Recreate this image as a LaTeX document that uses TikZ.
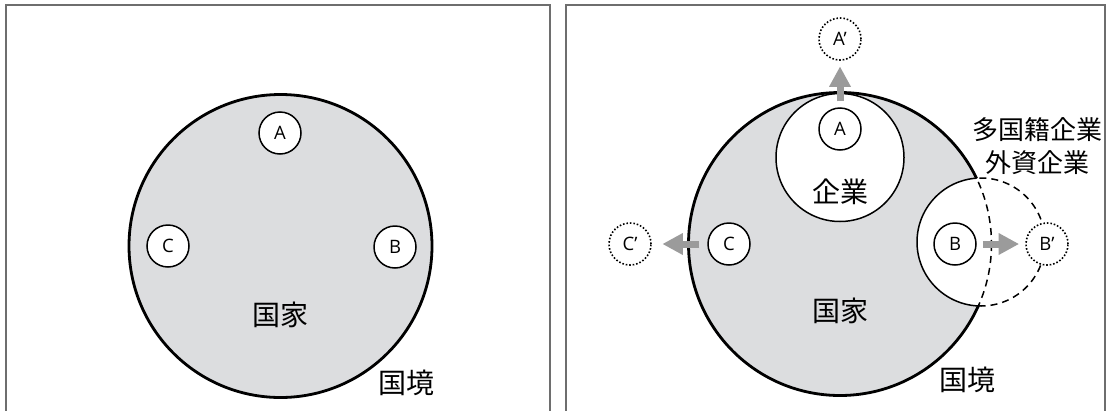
\documentclass[tikz,border=0pt]{standalone}
\usepackage{fontspec}
\setmainfont{Open Sans}
\newfontfamily\jp{Noto Sans CJK JP}
\usetikzlibrary{arrows.meta}
\definecolor{landgray}{RGB}{220,221,223}
\definecolor{arrowgray}{RGB}{155,155,155}
\definecolor{framegray}{RGB}{110,110,110}
\begin{document}
\begin{tikzpicture}[x=1pt,y=-1pt,
  firm/.style={circle,draw,line width=1.5pt,fill=white,minimum size=42pt,inner sep=0pt,font=\fontsize{18.5}{18.5}\selectfont},
  ghost/.style={firm,line width=1.6pt,dash pattern=on 1.6pt off 1.9pt},
  move/.style={draw=arrowgray,line width=7pt,-{Triangle[length=20pt,width=22pt,line width=0pt]}},
  jlabel/.style={font=\jp\fontsize{28}{28}\selectfont,inner sep=0pt},
  jsmall/.style={font=\jp\fontsize{26}{26}\selectfont,inner sep=0pt},
  panel/.style={draw=framegray,line width=1.2pt},
  border/.style={line width=2.8pt},
  thinline/.style={line width=1.5pt},
  dashline/.style={line width=1.5pt,dash pattern=on 7pt off 5pt}]
\useasboundingbox (0,0) rectangle (1111,410);
\fill[white] (0,0) rectangle (1111,410);
% ---------- left panel ----------
\draw[panel] (6,412) -- (6,5) -- (550,5) -- (550,412);
\fill[landgray] (280.5,246) circle (151.5);
\draw[border] (280.5,246) circle (151.5);
\node[firm] (LA) at (280,133) {A};
\node[firm] (LC) at (168,246) {C};
\node[firm] (LB) at (395,247) {B};
\node[jlabel] (Lcountry) at (280,315) {国家};
\node[jlabel] (Lborder) at (406,383) {国境};
% ---------- right panel ----------
\draw[panel] (566,412) -- (566,5) -- (1105,5) -- (1105,412);
\fill[landgray] (840,244) circle (151.5);
\fill[white] (981,242) circle (64);
\draw[thinline,fill=white] (840,157.5) circle (64);
\begin{scope}[even odd rule]
  \clip (560,0) rectangle (1111,410) (981,242) circle (64);
  \draw[border] (840,244) circle (151.5);
\end{scope}
\begin{scope}
  \clip (840,244) circle (151.5);
  \draw[thinline] (981,242) circle (64);
\end{scope}
\begin{scope}[even odd rule]
  \clip (560,0) rectangle (1111,410) (840,244) circle (151.5);
  \draw[dashline] (981,242) circle (64);
\end{scope}
\begin{scope}
  \clip (981,242) circle (64);
  \draw[dashline] (840,244) circle (151.5);
\end{scope}
\node[firm] (RA) at (840,129) {A};
\node[ghost] (RAp) at (840,39) {A’};
\node[firm] (RC) at (729,244) {C};
\node[ghost] (RCp) at (630,244) {C’};
\node[firm] (RB) at (955,244) {B};
\node[ghost] (RBp) at (1047,244) {B’};
\draw[move,shorten <=6pt,shorten >=6pt] (RA) -- (RAp);
\draw[move,shorten <=8pt,shorten >=11pt] (RC) -- (RCp);
\draw[move,shorten <=6pt,shorten >=6.5pt] (RB) -- (RBp);
\node[jlabel] (firmtxt) at (840,192) {企業};
\node[jlabel] (Rcountry) at (840,311) {国家};
\node[jlabel] (Rborder) at (967,380) {国境};
\node[jsmall] (multi) at (1037,130) {多国籍企業};
\node[jsmall] (foreign) at (1037,163) {外資企業};
\end{tikzpicture}
\end{document}
